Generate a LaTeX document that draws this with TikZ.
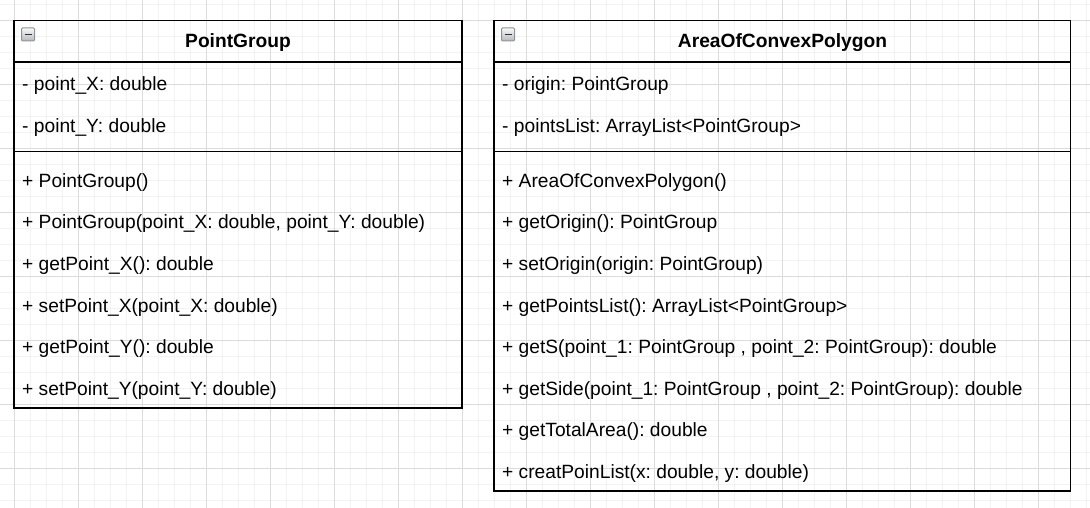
\documentclass[tikz,border=0pt]{standalone}
\usepackage{fontspec}
\setmainfont{Liberation Sans}
\usetikzlibrary{positioning, calc}
\definecolor{gridminor}{HTML}{F2F2F2}
\definecolor{gridmajor}{HTML}{DCDCDC}
\definecolor{iconfill}{HTML}{B4B8BE}
\definecolor{iconline}{HTML}{8E9298}
\frenchspacing
\tikzset{
    classbox/.style={draw=black, line width=1.6pt},
    member/.style={anchor=west, inner sep=0pt, font=\fontsize{19.2}{23}\selectfont},
    classname/.style={inner sep=0pt, font=\fontsize{19.2}{23}\selectfont\bfseries},
    collapse/.style={draw=iconline, line width=1pt, top color=white!90!iconfill, bottom color=iconfill, rounded corners=1pt}
}
\begin{document}
\begin{tikzpicture}[x=1pt, y=-1pt]
    \def \row {41.6}
    \def \head {41.6}
    \def \sep {12.8}
    \useasboundingbox (0,0) rectangle (1090,508);
    % grid
    \foreach \x in {14,30,...,1090}{
    \draw[gridminor, line width=1pt] (\x,0) -- (\x,508);}
    \foreach \y in {4.5,20.5,...,508}{
    \draw[gridminor, line width=1pt] (0,\y) -- (1090,\y);}
    \foreach \x in {14,78,...,1090}{
    \draw[gridmajor, line width=1pt] (\x,0) -- (\x,508);}
    \foreach \y in {20.5,84.5,...,508}{
    \draw[gridmajor, line width=1pt] (0,\y) -- (1090,\y);}
    % PointGroup
    \begin{scope}[shift={(14,20.5)}]
    \coordinate (p0) at (0,0);
    \coordinate (p1) at (448,{\head+2*\row+\sep+6*\row});
    \draw[classbox] (p0) rectangle (p1);
    \draw[classbox] (0,\head) -- (448,\head);
    \draw[classbox] (0,{\head+2*\row+\sep/2}) -- (448,{\head+2*\row+\sep/2});
    \draw[collapse] (7.5,7.5) rectangle (20.5,20.5);
    \draw[black!80, line width=1.8pt] (10.5,14) -- (17.5,14);
    \node[classname] (pgname) at (224,{\head/2+1}) {PointGroup};
    \node[member] (pga1) at (8,{\head+0.5*\row+3}) {- point\_X: double};
    \node[member] (pga2) at (8,{\head+1.5*\row+3}) {- point\_Y: double};
    \foreach \i/\t in {1/{+ PointGroup()},
                       2/{+ PointGroup(point\_X: double, point\_Y: double)},
                       3/{+ getPoint\_X(): double},
                       4/{+ setPoint\_X(point\_X: double)},
                       5/{+ getPoint\_Y(): double},
                       6/{+ setPoint\_Y(point\_Y: double)}}{
    \node[member] (pgm\i) at (8,{\head+2*\row+\sep+(\i-0.5)*\row+3.5}) {\t};}
    \end{scope}
    % AreaOfConvexPolygon
    \begin{scope}[shift={(494,20.5)}]
    \coordinate (q0) at (0,0);
    \coordinate (q1) at (576.5,{\head+2*\row+\sep+8*\row});
    \draw[classbox] (q0) rectangle (q1);
    \draw[classbox] (0,\head) -- (576.5,\head);
    \draw[classbox] (0,{\head+2*\row+\sep/2}) -- (576.5,{\head+2*\row+\sep/2});
    \draw[collapse] (7.5,7.5) rectangle (20.5,20.5);
    \draw[black!80, line width=1.8pt] (10.5,14) -- (17.5,14);
    \node[classname] (acname) at (288.5,{\head/2+1}) {AreaOfConvexPolygon};
    \node[member] (aca1) at (8,{\head+0.5*\row+3}) {- origin: PointGroup};
    \node[member] (aca2) at (8,{\head+1.5*\row+3}) {- pointsList: ArrayList<PointGroup>};
    \foreach \i/\t in {1/{+ AreaOfConvexPolygon()},
                       2/{+ getOrigin(): PointGroup},
                       3/{+ setOrigin(origin: PointGroup)},
                       4/{+ getPointsList(): ArrayList<PointGroup>},
                       5/{+ getS(point\_1: PointGroup , point\_2: PointGroup): double},
                       6/{+ getSide(point\_1: PointGroup , point\_2: PointGroup): double},
                       7/{+ getTotalArea(): double},
                       8/{+ creatPoinList(x: double, y: double)}}{
    \node[member] (acm\i) at (8,{\head+2*\row+\sep+(\i-0.5)*\row+3.5}) {\t};}
    \end{scope}
\end{tikzpicture}
\end{document}
